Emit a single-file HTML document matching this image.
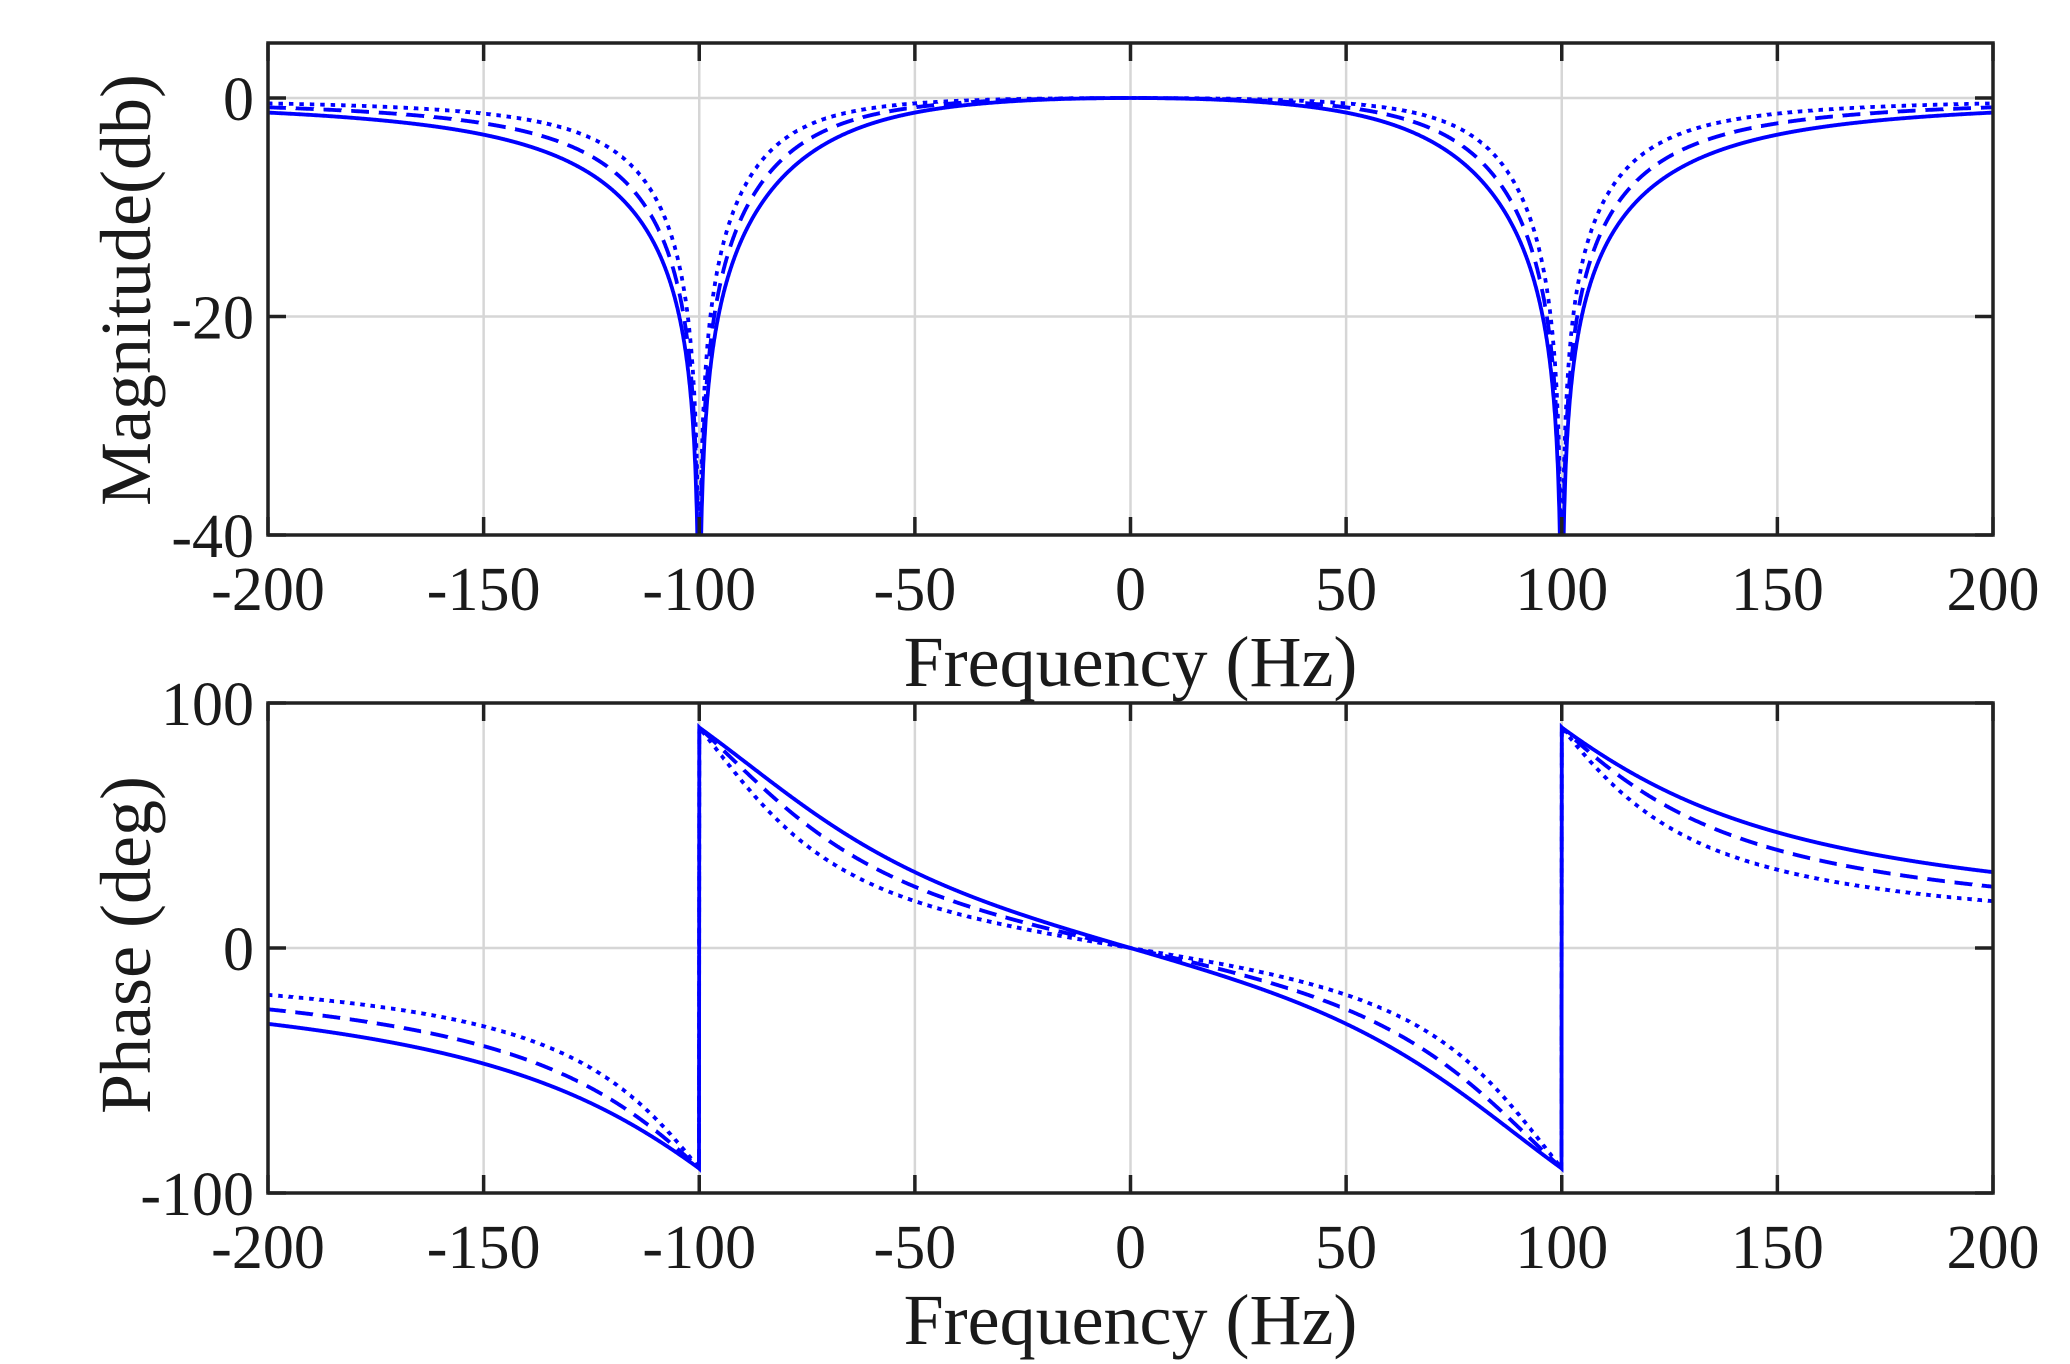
<!DOCTYPE html>
<html><head><meta charset="utf-8"><style>
html,body{margin:0;padding:0;background:#fff;}
svg{display:block;}
text{font-family:"Liberation Serif",serif;fill:#1a1a1a;}
</style></head><body>
<svg id="s" width="2070" height="1364" xmlns="http://www.w3.org/2000/svg">
<defs>
<clipPath id="c1"><rect x="268" y="43" width="1725" height="492"/></clipPath>
<clipPath id="c2"><rect x="268" y="703" width="1725" height="490"/></clipPath>
</defs>
<g id="g"></g>
</svg>
<script>
const L=268,R=1993;
const X=f=>L+(f+200)/400*(R-L);
let h='';
function axes(top,bot,yv2py,yticks){
  for(let f=-200;f<=200;f+=50){const x=X(f);h+=`<line x1="${x}" y1="${top}" x2="${x}" y2="${bot}" stroke="#d6d6d6" stroke-width="2.5"/>`;}
  yticks.forEach(v=>{const y=yv2py(v);h+=`<line x1="${L}" y1="${y}" x2="${R}" y2="${y}" stroke="#d6d6d6" stroke-width="2.5"/>`;});
}
function frame(top,bot,yv2py,yticks,ylab,cy,ylx){
  for(let f=-200;f<=200;f+=50){const x=X(f);
    h+=`<line x1="${x}" y1="${bot}" x2="${x}" y2="${bot-18}" stroke="#222" stroke-width="3.5"/>`;
    h+=`<line x1="${x}" y1="${top}" x2="${x}" y2="${top+18}" stroke="#222" stroke-width="3.5"/>`;
    h+=`<text x="${x}" y="${bot+75}" font-size="62" text-anchor="middle">${f<0?'-'+(-f):f}</text>`;
  }
  yticks.forEach(v=>{const y=yv2py(v);
    h+=`<line x1="${L}" y1="${y}" x2="${L+18}" y2="${y}" stroke="#222" stroke-width="3.5"/>`;
    h+=`<line x1="${R}" y1="${y}" x2="${R-18}" y2="${y}" stroke="#222" stroke-width="3.5"/>`;
    h+=`<text x="254" y="${y+22}" font-size="62" text-anchor="end">${v}</text>`;
  });
  h+=`<rect x="${L}" y="${top}" width="${R-L}" height="${bot-top}" fill="none" stroke="#222" stroke-width="3.5"/>`;
  h+=`<text x="${(L+R)/2}" y="${bot+151}" font-size="72" text-anchor="middle">Frequency (Hz)</text>`;
  h+=`<text transform="translate(${ylx},${cy}) rotate(-90)" font-size="72" text-anchor="middle">${ylab}</text>`;
}
const ks=[90,70,52];
const dash=['none','18 10','4.5 6'];
const My=v=>98+(-v)/40*437;
const Py=v=>948-v/100*245;
axes(43,535,My,[0,-20,-40]);
axes(703,1193,Py,[100,0,-100]);
ks.forEach((k,i)=>{
  let d='',p='';
  for(let j=0;j<=8000;j++){
    let f=-200+j*0.05;
    if(Math.abs(Math.abs(f)-100)<1e-6) f+=1e-4;
    const a=100*100-f*f;
    let m=20*Math.log10(Math.abs(a)/Math.sqrt(a*a+k*k*f*f));
    if(m<-45)m=-45;
    let ph=(a<0?180:0)-Math.atan2(k*f,a)*180/Math.PI;
    while(ph>180)ph-=360;while(ph<-180)ph+=360;
    d+=(j?'L':'M')+X(f).toFixed(1)+' '+My(m).toFixed(1);
    p+=(j?'L':'M')+X(f).toFixed(1)+' '+Py(ph).toFixed(1);
  }
  h+=`<path d="${d}" fill="none" stroke="#0000ff" stroke-width="3.8" stroke-dasharray="${dash[i]}" clip-path="url(#c1)"/>`;
  h+=`<path d="${p}" fill="none" stroke="#0000ff" stroke-width="3.8" stroke-dasharray="${dash[i]}" clip-path="url(#c2)"/>`;
});
frame(43,535,My,[0,-20,-40],'Magnitude(db)',290,150);
frame(703,1193,Py,[100,0,-100],'Phase (deg)',945,150);
document.getElementById('g').innerHTML=h;
</script>
</body></html>
